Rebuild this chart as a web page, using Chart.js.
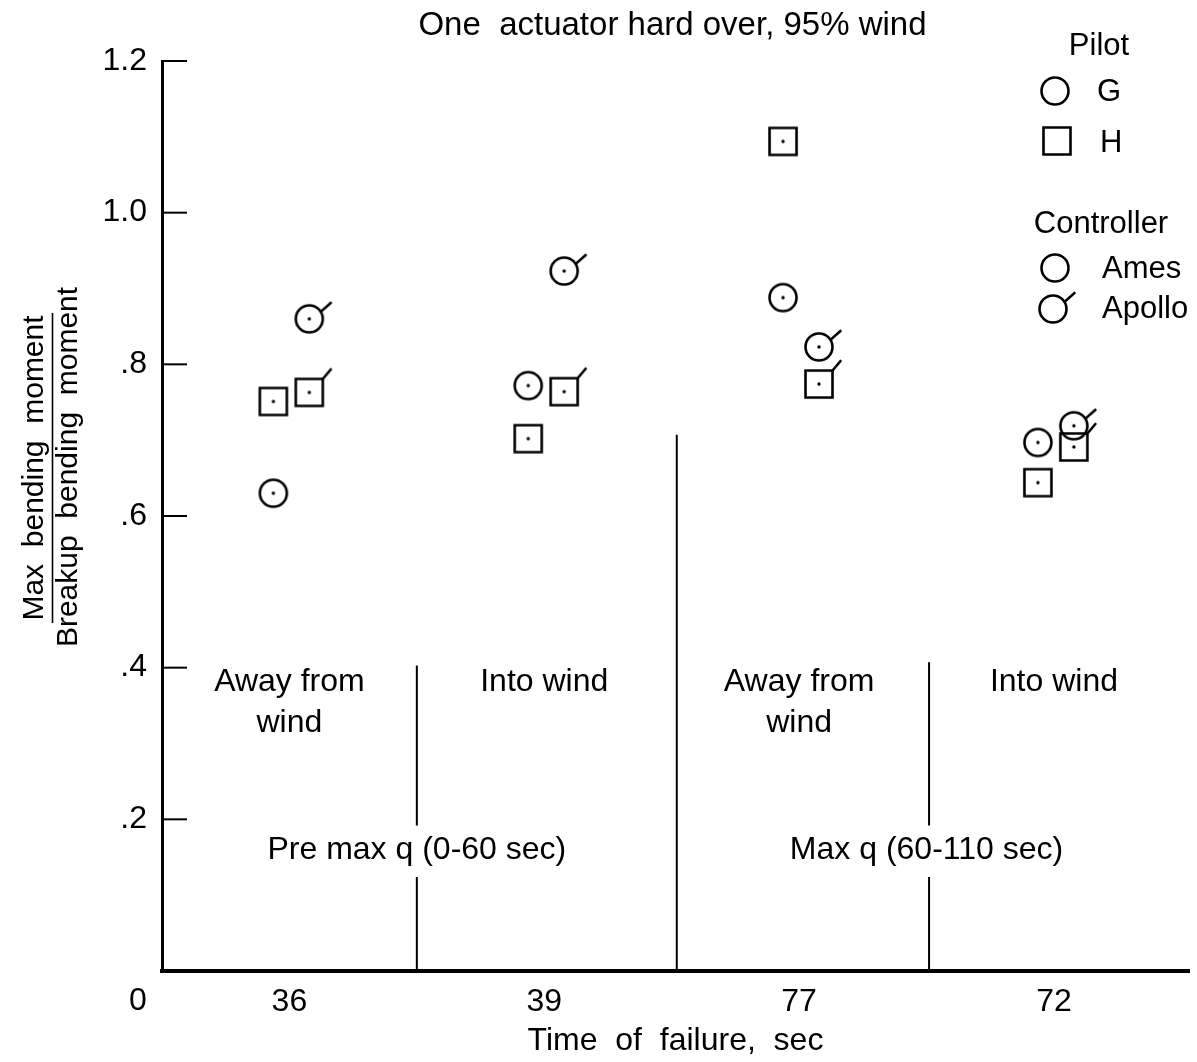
<!DOCTYPE html>
<html>
<head>
<meta charset="utf-8">
<title>One actuator hard over, 95% wind</title>
<script src="https://cdn.jsdelivr.net/npm/chart.js@4.4.1/dist/chart.umd.min.js"></script>
<style>
  html, body { margin: 0; padding: 0; background: #fff; }
  #wrap { width: 1197px; height: 1062px; }
</style>
</head>
<body>
<div id="wrap"><canvas id="chart" width="1197" height="1062"></canvas></div>
<script>
// ---- data ----
const failureTimes = ['36', '39', '77', '72'];          // time of failure, sec (one column each)
const windDirection = [['Away from', 'wind'], ['Into wind'], ['Away from', 'wind'], ['Into wind']];
const flightRegimes = ['Pre max q (0-60 sec)', 'Max q (60-110 sec)'];

// max bending moment / breakup bending moment
const pilotG_ames   = [0.630, 0.772, 0.888, 0.697];
const pilotH_ames   = [0.751, 0.702, 1.094, 0.644];
const pilotG_apollo = [0.860, 0.923, 0.823, 0.719];
const pilotH_apollo = [0.763, 0.764, 0.774, 0.691];

const yTickValues = [0.2, 0.4, 0.6, 0.8, 1.0, 1.2];

// column separators: x position (column boundary) and top value
const dividerX   = [1.0, 2.02, 3.01];
const dividerTop = [0.403, 0.707, 0.407];

// ---- styling ----
const FONT = "'Liberation Sans', 'DejaVu Sans', sans-serif";
const INK = '#000';
const slotOffset = { ames: -0.063, apollo: 0.078 };   // side-by-side placement inside a column

function drawMarker(ctx, cx, cy, shape, apollo, dot) {
  const r = 13.5;
  ctx.save();
  ctx.strokeStyle = INK;
  ctx.fillStyle = INK;
  ctx.lineWidth = 2.6;
  ctx.lineCap = 'round';
  ctx.beginPath();
  if (shape === 'circle') {
    ctx.arc(cx, cy, r, 0, Math.PI * 2);
  } else {
    ctx.rect(cx - r, cy - r, 2 * r, 2 * r);
  }
  ctx.stroke();
  if (apollo) {
    ctx.beginPath();
    if (shape === 'circle') {
      ctx.moveTo(cx + 11.8, cy - 7.4);
      ctx.lineTo(cx + 21.5, cy - 16);
    } else {
      ctx.moveTo(cx + r, cy - r);
      ctx.lineTo(cx + 21.5, cy - 23);
    }
    ctx.stroke();
  }
  if (dot) {
    ctx.beginPath();
    ctx.arc(cx, cy, 1.7, 0, Math.PI * 2);
    ctx.fill();
  }
  ctx.restore();
}

function markerImage(shape, apollo) {
  const c = document.createElement('canvas');
  c.width = 64; c.height = 64;
  drawMarker(c.getContext('2d'), 32, 32, shape, apollo, true);
  return c;
}

function points(values, slot) {
  return values.map((v, i) => ({ x: i + 0.5 + slotOffset[slot], y: v }));
}

function fmtTick(v) {
  const s = Number(v).toFixed(1);
  return s.startsWith('0') ? s.slice(1) : s;
}

// ---- annotation layer: inward ticks, separators, text, key ----
const annotations = {
  id: 'annotations',
  afterDraw(chart) {
    const { ctx, chartArea: a, scales: { x, y } } = chart;
    ctx.save();
    ctx.strokeStyle = INK;
    ctx.fillStyle = INK;

    // inward tick marks on the value axis
    ctx.lineWidth = 2;
    yTickValues.forEach(v => {
      const py = y.getPixelForValue(v);
      ctx.beginPath();
      ctx.moveTo(a.left, py);
      ctx.lineTo(a.left + 25, py);
      ctx.stroke();
    });

    // column separators (the outer ones leave room for the regime labels)
    ctx.lineWidth = 2;
    const gapLow = y.getPixelForValue(0.124), gapHigh = y.getPixelForValue(0.192);
    dividerX.forEach((dx, i) => {
      const px = x.getPixelForValue(dx);
      const top = y.getPixelForValue(dividerTop[i]);
      ctx.beginPath();
      if (i === 1) {
        ctx.moveTo(px, top); ctx.lineTo(px, a.bottom);
      } else {
        ctx.moveTo(px, top); ctx.lineTo(px, gapHigh);
        ctx.moveTo(px, gapLow); ctx.lineTo(px, a.bottom);
      }
      ctx.stroke();
    });

    // wind direction labels
    ctx.font = `32px ${FONT}`;
    ctx.textAlign = 'center';
    ctx.textBaseline = 'alphabetic';
    windDirection.forEach((lines, i) => {
      const px = x.getPixelForValue(i + 0.5);
      lines.forEach((t, j) => {
        ctx.fillText(t, px, y.getPixelForValue(0.369 - j * 0.054));
      });
    });

    // flight regime labels
    flightRegimes.forEach((t, i) => {
      ctx.fillText(t, x.getPixelForValue(1 + 2 * i), y.getPixelForValue(0.148));
    });

    // chart title
    ctx.font = `33px ${FONT}`;
    ctx.fillText('One  actuator hard over, 95% wind', (a.left + a.right) / 2 - 3, 35);

    // origin label
    ctx.font = `32px ${FONT}`;
    ctx.fillText('0', a.left - 24, 1010);

    // value axis title, drawn as a fraction
    ctx.font = `30px ${FONT}`;
    ctx.save();
    ctx.translate(43, 468);
    ctx.rotate(-Math.PI / 2);
    ctx.fillText('Max  bending  moment', 0, 0);
    ctx.restore();
    ctx.save();
    ctx.translate(77, 467);
    ctx.rotate(-Math.PI / 2);
    ctx.fillText('Breakup  bending  moment', 0, 0);
    ctx.restore();
    ctx.lineWidth = 1.6;
    ctx.beginPath();
    ctx.moveTo(52.5, 313);
    ctx.lineTo(52.5, 623);
    ctx.stroke();

    // key
    ctx.font = `31px ${FONT}`;
    ctx.textAlign = 'center';
    ctx.fillText('Pilot', 1099, 55);
    ctx.fillText('Controller', 1101, 233);
    ctx.textAlign = 'left';
    drawMarker(ctx, 1055, 91, 'circle', false, false);
    ctx.fillText('G', 1097, 101);
    drawMarker(ctx, 1057, 141, 'square', false, false);
    ctx.fillText('H', 1100, 152);
    drawMarker(ctx, 1055, 268, 'circle', false, false);
    ctx.fillText('Ames', 1102, 278);
    drawMarker(ctx, 1053, 309, 'circle', true, false);
    ctx.fillText('Apollo', 1102, 318);

    ctx.restore();
  }
};

const ds = (label, values, shape, slot) => ({
  label,
  data: points(values, slot),
  pointStyle: markerImage(shape, slot === 'apollo'),
  pointRadius: 15,
  pointHoverRadius: 15,
  showLine: false
});

new Chart(document.getElementById('chart'), {
  type: 'scatter',
  data: {
    datasets: [
      ds('Pilot G, Ames', pilotG_ames, 'circle', 'ames'),
      ds('Pilot H, Ames', pilotH_ames, 'square', 'ames'),
      ds('Pilot G, Apollo', pilotG_apollo, 'circle', 'apollo'),
      ds('Pilot H, Apollo', pilotH_apollo, 'square', 'apollo')
    ]
  },
  options: {
    responsive: false,
    animation: false,
    devicePixelRatio: 1,
    layout: { autoPadding: false, padding: { top: 61, right: 8, bottom: 0, left: 0 } },
    plugins: { legend: { display: false }, tooltip: { enabled: false }, title: { display: false } },
    scales: {
      x: {
        type: 'linear',
        min: 0,
        max: 4.03,
        afterBuildTicks: s => { s.ticks = failureTimes.map((t, i) => ({ value: i + 0.5 })); },
        afterFit: s => { s.height = 91; },
        ticks: {
          callback: v => failureTimes[Math.round(v - 0.5)],
          color: INK,
          font: { family: FONT, size: 32 },
          padding: 12,
          maxRotation: 0,
          autoSkip: false
        },
        grid: { display: false, drawTicks: false },
        border: { display: true, color: INK, width: 4 },
        title: {
          display: true,
          text: 'Time  of  failure,  sec',
          color: INK,
          font: { family: FONT, size: 32 },
          padding: { top: 0, bottom: 2 }
        }
      },
      y: {
        min: 0,
        max: 1.2,
        afterBuildTicks: s => { s.ticks = yTickValues.map(v => ({ value: v })); },
        afterFit: s => { s.width = 162; },
        ticks: {
          callback: v => fmtTick(v),
          color: INK,
          font: { family: FONT, size: 32 },
          padding: 15
        },
        grid: { display: false, drawTicks: false },
        border: { display: true, color: INK, width: 3 }
      }
    }
  },
  plugins: [annotations]
});
</script>
</body>
</html>
